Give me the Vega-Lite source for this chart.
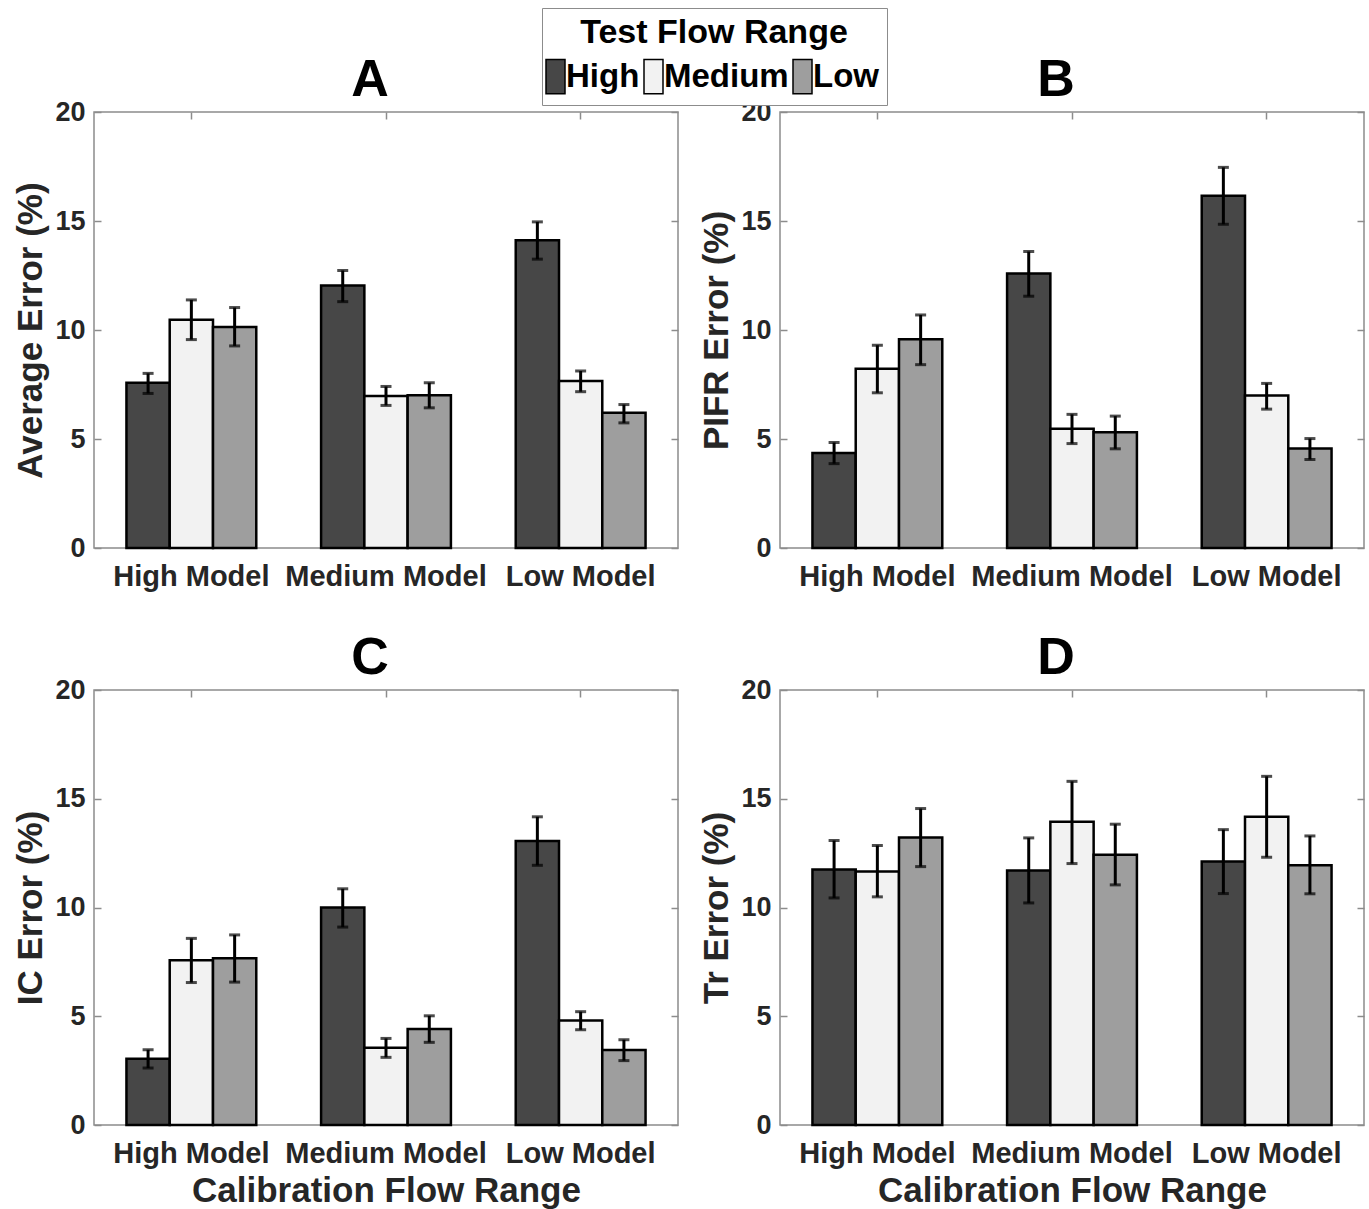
{
  "$schema": "https://vega.github.io/schema/vega-lite/v6.json",
  "padding": {"left": 13, "top": 7, "right": 3, "bottom": 3},
  "background": "white",
  "datasets": {
    "d": [
      {"panel": "A", "model": "High Model", "test": "High", "value": 7.58, "lo": 7.09, "hi": 8.01},
      {"panel": "A", "model": "High Model", "test": "Medium", "value": 10.47, "lo": 9.56, "hi": 11.38},
      {"panel": "A", "model": "High Model", "test": "Low", "value": 10.14, "lo": 9.27, "hi": 11.03},
      {"panel": "A", "model": "Medium Model", "test": "High", "value": 12.04, "lo": 11.3, "hi": 12.73},
      {"panel": "A", "model": "Medium Model", "test": "Medium", "value": 6.97, "lo": 6.54, "hi": 7.41},
      {"panel": "A", "model": "Medium Model", "test": "Low", "value": 7.01, "lo": 6.43, "hi": 7.58},
      {"panel": "A", "model": "Low Model", "test": "High", "value": 14.12, "lo": 13.25, "hi": 14.96},
      {"panel": "A", "model": "Low Model", "test": "Medium", "value": 7.66, "lo": 7.17, "hi": 8.12},
      {"panel": "A", "model": "Low Model", "test": "Low", "value": 6.2, "lo": 5.74, "hi": 6.58},
      {"panel": "B", "model": "High Model", "test": "High", "value": 4.36, "lo": 3.87, "hi": 4.84},
      {"panel": "B", "model": "High Model", "test": "Medium", "value": 8.22, "lo": 7.12, "hi": 9.3},
      {"panel": "B", "model": "High Model", "test": "Low", "value": 9.57, "lo": 8.41, "hi": 10.69},
      {"panel": "B", "model": "Medium Model", "test": "High", "value": 12.59, "lo": 11.55, "hi": 13.6},
      {"panel": "B", "model": "Medium Model", "test": "Medium", "value": 5.47, "lo": 4.79, "hi": 6.13},
      {"panel": "B", "model": "Medium Model", "test": "Low", "value": 5.31, "lo": 4.55, "hi": 6.05},
      {"panel": "B", "model": "Low Model", "test": "High", "value": 16.16, "lo": 14.85, "hi": 17.46},
      {"panel": "B", "model": "Low Model", "test": "Medium", "value": 7.0, "lo": 6.37, "hi": 7.55},
      {"panel": "B", "model": "Low Model", "test": "Low", "value": 4.56, "lo": 4.06, "hi": 5.02},
      {"panel": "C", "model": "High Model", "test": "High", "value": 3.05, "lo": 2.62, "hi": 3.46},
      {"panel": "C", "model": "High Model", "test": "Medium", "value": 7.58, "lo": 6.55, "hi": 8.58},
      {"panel": "C", "model": "High Model", "test": "Low", "value": 7.67, "lo": 6.57, "hi": 8.74},
      {"panel": "C", "model": "Medium Model", "test": "High", "value": 10.0, "lo": 9.1, "hi": 10.86},
      {"panel": "C", "model": "Medium Model", "test": "Medium", "value": 3.55, "lo": 3.11, "hi": 3.98},
      {"panel": "C", "model": "Medium Model", "test": "Low", "value": 4.41, "lo": 3.8, "hi": 5.02},
      {"panel": "C", "model": "Low Model", "test": "High", "value": 13.06, "lo": 11.94, "hi": 14.17},
      {"panel": "C", "model": "Low Model", "test": "Medium", "value": 4.81, "lo": 4.38, "hi": 5.21},
      {"panel": "C", "model": "Low Model", "test": "Low", "value": 3.45, "lo": 2.96, "hi": 3.92},
      {"panel": "D", "model": "High Model", "test": "High", "value": 11.75, "lo": 10.44, "hi": 13.08},
      {"panel": "D", "model": "High Model", "test": "Medium", "value": 11.65, "lo": 10.49, "hi": 12.85},
      {"panel": "D", "model": "High Model", "test": "Low", "value": 13.22, "lo": 11.88, "hi": 14.55},
      {"panel": "D", "model": "Medium Model", "test": "High", "value": 11.7, "lo": 10.21, "hi": 13.2},
      {"panel": "D", "model": "Medium Model", "test": "Medium", "value": 13.94, "lo": 12.02, "hi": 15.8},
      {"panel": "D", "model": "Medium Model", "test": "Low", "value": 12.43, "lo": 11.04, "hi": 13.83},
      {"panel": "D", "model": "Low Model", "test": "High", "value": 12.11, "lo": 10.64, "hi": 13.58},
      {"panel": "D", "model": "Low Model", "test": "Medium", "value": 14.17, "lo": 12.31, "hi": 16.03},
      {"panel": "D", "model": "Low Model", "test": "Low", "value": 11.94, "lo": 10.63, "hi": 13.29}
    ]
  },
  "vconcat": [
    {
      "hconcat": [
        {
          "width": 584, "height": 436,
          "title": "A",
          "data": {"name": "d"},
          "transform": [{"filter": "datum.panel === 'A'"}],
          "layer": [
            {
              "mark": {"type": "bar", "stroke": "black", "strokeWidth": 2.5},
              "encoding": {
                "x": {"field": "model", "type": "nominal", "sort": ["High Model", "Medium Model", "Low Model"], "scale": {"paddingInner": 0.333, "paddingOuter": 0.1667}, "axis": {"title": null, "labelAngle": 0}},
                "xOffset": {"field": "test", "type": "nominal", "sort": ["High", "Medium", "Low"]},
                "y": {"field": "value", "type": "quantitative", "scale": {"domain": [0, 20], "nice": false}, "axis": {"title": "Average Error (%)", "values": [0, 5, 10, 15, 20]}},
                "color": {"field": "test", "type": "nominal", "sort": ["High", "Medium", "Low"], "scale": {"domain": ["High", "Medium", "Low"], "range": ["#474747", "#f2f2f2", "#9e9e9e"]}, "legend": {"title": "Test Flow Range"}}
              }
            },
            {
              "mark": {"type": "rule", "color": "black", "strokeWidth": 3},
              "encoding": {
                "x": {"field": "model", "type": "nominal", "sort": ["High Model", "Medium Model", "Low Model"], "axis": {"orient": "top", "labels": false, "title": null}},
                "xOffset": {"field": "test", "type": "nominal", "sort": ["High", "Medium", "Low"]},
                "y": {"field": "lo", "type": "quantitative", "axis": {"orient": "right", "labels": false, "title": null, "values": [0, 5, 10, 15, 20]}},
                "y2": {"field": "hi"}
              }
            },
            {
              "mark": {"type": "tick", "color": "black", "thickness": 3, "size": 11},
              "encoding": {
                "x": {"field": "model", "type": "nominal", "sort": ["High Model", "Medium Model", "Low Model"], "axis": null},
                "xOffset": {"field": "test", "type": "nominal", "sort": ["High", "Medium", "Low"]},
                "y": {"field": "lo", "type": "quantitative", "axis": null}
              }
            },
            {
              "mark": {"type": "tick", "color": "black", "thickness": 3, "size": 11},
              "encoding": {
                "x": {"field": "model", "type": "nominal", "sort": ["High Model", "Medium Model", "Low Model"], "axis": null},
                "xOffset": {"field": "test", "type": "nominal", "sort": ["High", "Medium", "Low"]},
                "y": {"field": "hi", "type": "quantitative", "axis": null}
              }
            }
          ],
          "resolve": {"axis": {"x": "independent", "y": "independent"}}
        },
        {
          "width": 584, "height": 436,
          "title": "B",
          "data": {"name": "d"},
          "transform": [{"filter": "datum.panel === 'B'"}],
          "layer": [
            {
              "mark": {"type": "bar", "stroke": "black", "strokeWidth": 2.5},
              "encoding": {
                "x": {"field": "model", "type": "nominal", "sort": ["High Model", "Medium Model", "Low Model"], "scale": {"paddingInner": 0.333, "paddingOuter": 0.1667}, "axis": {"title": null, "labelAngle": 0}},
                "xOffset": {"field": "test", "type": "nominal", "sort": ["High", "Medium", "Low"]},
                "y": {"field": "value", "type": "quantitative", "scale": {"domain": [0, 20], "nice": false}, "axis": {"title": "PIFR Error (%)", "values": [0, 5, 10, 15, 20]}},
                "color": {"field": "test", "type": "nominal", "sort": ["High", "Medium", "Low"], "scale": {"domain": ["High", "Medium", "Low"], "range": ["#474747", "#f2f2f2", "#9e9e9e"]}, "legend": {"title": "Test Flow Range"}}
              }
            },
            {
              "mark": {"type": "rule", "color": "black", "strokeWidth": 3},
              "encoding": {
                "x": {"field": "model", "type": "nominal", "sort": ["High Model", "Medium Model", "Low Model"], "axis": {"orient": "top", "labels": false, "title": null}},
                "xOffset": {"field": "test", "type": "nominal", "sort": ["High", "Medium", "Low"]},
                "y": {"field": "lo", "type": "quantitative", "axis": {"orient": "right", "labels": false, "title": null, "values": [0, 5, 10, 15, 20]}},
                "y2": {"field": "hi"}
              }
            },
            {
              "mark": {"type": "tick", "color": "black", "thickness": 3, "size": 11},
              "encoding": {
                "x": {"field": "model", "type": "nominal", "sort": ["High Model", "Medium Model", "Low Model"], "axis": null},
                "xOffset": {"field": "test", "type": "nominal", "sort": ["High", "Medium", "Low"]},
                "y": {"field": "lo", "type": "quantitative", "axis": null}
              }
            },
            {
              "mark": {"type": "tick", "color": "black", "thickness": 3, "size": 11},
              "encoding": {
                "x": {"field": "model", "type": "nominal", "sort": ["High Model", "Medium Model", "Low Model"], "axis": null},
                "xOffset": {"field": "test", "type": "nominal", "sort": ["High", "Medium", "Low"]},
                "y": {"field": "hi", "type": "quantitative", "axis": null}
              }
            }
          ],
          "resolve": {"axis": {"x": "independent", "y": "independent"}}
        }
      ],
      "spacing": 19
    },
    {
      "hconcat": [
        {
          "width": 584, "height": 435,
          "title": "C",
          "data": {"name": "d"},
          "transform": [{"filter": "datum.panel === 'C'"}],
          "layer": [
            {
              "mark": {"type": "bar", "stroke": "black", "strokeWidth": 2.5},
              "encoding": {
                "x": {"field": "model", "type": "nominal", "sort": ["High Model", "Medium Model", "Low Model"], "scale": {"paddingInner": 0.333, "paddingOuter": 0.1667}, "axis": {"title": "Calibration Flow Range", "labelAngle": 0}},
                "xOffset": {"field": "test", "type": "nominal", "sort": ["High", "Medium", "Low"]},
                "y": {"field": "value", "type": "quantitative", "scale": {"domain": [0, 20], "nice": false}, "axis": {"title": "IC Error (%)", "values": [0, 5, 10, 15, 20]}},
                "color": {"field": "test", "type": "nominal", "sort": ["High", "Medium", "Low"], "scale": {"domain": ["High", "Medium", "Low"], "range": ["#474747", "#f2f2f2", "#9e9e9e"]}, "legend": {"title": "Test Flow Range"}}
              }
            },
            {
              "mark": {"type": "rule", "color": "black", "strokeWidth": 3},
              "encoding": {
                "x": {"field": "model", "type": "nominal", "sort": ["High Model", "Medium Model", "Low Model"], "axis": {"orient": "top", "labels": false, "title": null}},
                "xOffset": {"field": "test", "type": "nominal", "sort": ["High", "Medium", "Low"]},
                "y": {"field": "lo", "type": "quantitative", "axis": {"orient": "right", "labels": false, "title": null, "values": [0, 5, 10, 15, 20]}},
                "y2": {"field": "hi"}
              }
            },
            {
              "mark": {"type": "tick", "color": "black", "thickness": 3, "size": 11},
              "encoding": {
                "x": {"field": "model", "type": "nominal", "sort": ["High Model", "Medium Model", "Low Model"], "axis": null},
                "xOffset": {"field": "test", "type": "nominal", "sort": ["High", "Medium", "Low"]},
                "y": {"field": "lo", "type": "quantitative", "axis": null}
              }
            },
            {
              "mark": {"type": "tick", "color": "black", "thickness": 3, "size": 11},
              "encoding": {
                "x": {"field": "model", "type": "nominal", "sort": ["High Model", "Medium Model", "Low Model"], "axis": null},
                "xOffset": {"field": "test", "type": "nominal", "sort": ["High", "Medium", "Low"]},
                "y": {"field": "hi", "type": "quantitative", "axis": null}
              }
            }
          ],
          "resolve": {"axis": {"x": "independent", "y": "independent"}}
        },
        {
          "width": 584, "height": 435,
          "title": "D",
          "data": {"name": "d"},
          "transform": [{"filter": "datum.panel === 'D'"}],
          "layer": [
            {
              "mark": {"type": "bar", "stroke": "black", "strokeWidth": 2.5},
              "encoding": {
                "x": {"field": "model", "type": "nominal", "sort": ["High Model", "Medium Model", "Low Model"], "scale": {"paddingInner": 0.333, "paddingOuter": 0.1667}, "axis": {"title": "Calibration Flow Range", "labelAngle": 0}},
                "xOffset": {"field": "test", "type": "nominal", "sort": ["High", "Medium", "Low"]},
                "y": {"field": "value", "type": "quantitative", "scale": {"domain": [0, 20], "nice": false}, "axis": {"title": "Tr Error (%)", "values": [0, 5, 10, 15, 20]}},
                "color": {"field": "test", "type": "nominal", "sort": ["High", "Medium", "Low"], "scale": {"domain": ["High", "Medium", "Low"], "range": ["#474747", "#f2f2f2", "#9e9e9e"]}, "legend": {"title": "Test Flow Range"}}
              }
            },
            {
              "mark": {"type": "rule", "color": "black", "strokeWidth": 3},
              "encoding": {
                "x": {"field": "model", "type": "nominal", "sort": ["High Model", "Medium Model", "Low Model"], "axis": {"orient": "top", "labels": false, "title": null}},
                "xOffset": {"field": "test", "type": "nominal", "sort": ["High", "Medium", "Low"]},
                "y": {"field": "lo", "type": "quantitative", "axis": {"orient": "right", "labels": false, "title": null, "values": [0, 5, 10, 15, 20]}},
                "y2": {"field": "hi"}
              }
            },
            {
              "mark": {"type": "tick", "color": "black", "thickness": 3, "size": 11},
              "encoding": {
                "x": {"field": "model", "type": "nominal", "sort": ["High Model", "Medium Model", "Low Model"], "axis": null},
                "xOffset": {"field": "test", "type": "nominal", "sort": ["High", "Medium", "Low"]},
                "y": {"field": "lo", "type": "quantitative", "axis": null}
              }
            },
            {
              "mark": {"type": "tick", "color": "black", "thickness": 3, "size": 11},
              "encoding": {
                "x": {"field": "model", "type": "nominal", "sort": ["High Model", "Medium Model", "Low Model"], "axis": null},
                "xOffset": {"field": "test", "type": "nominal", "sort": ["High", "Medium", "Low"]},
                "y": {"field": "hi", "type": "quantitative", "axis": null}
              }
            }
          ],
          "resolve": {"axis": {"x": "independent", "y": "independent"}}
        }
      ],
      "spacing": 19
    }
  ],
  "spacing": 39,
  "config": {
    "font": "Liberation Sans",
    "view": {"stroke": "#8c8c8c", "strokeWidth": 1.5},
    "axis": {
      "labelFont": "Liberation Sans", "labelFontWeight": "bold", "labelFontSize": 27, "labelColor": "#262626", "labelLimit": 0,
      "titleFont": "Liberation Sans", "titleFontWeight": "bold", "titleFontSize": 35, "titleColor": "#262626", "titleLimit": 0,
      "domain": false, "grid": false, "tickColor": "#8c8c8c", "tickWidth": 1.5, "tickSize": -7
    },
    "axisLeft": {"labelPadding": 16, "titlePadding": 6},
    "axisBottom": {"labelPadding": 21, "titlePadding": 5, "labelFontSize": 29},
    "axisTop": {"minExtent": 0, "maxExtent": 0},
    "axisRight": {"minExtent": 0, "maxExtent": 0},
    "title": {"font": "Liberation Sans", "fontSize": 52, "fontWeight": "bold", "color": "#000000", "offset": -9, "dx": -16},
    "legend": {
      "orient": "none", "legendX": 448, "legendY": -104, "direction": "horizontal",
      "titleFont": "Liberation Sans", "titleFontSize": 34, "titleFontWeight": "bold", "titleColor": "#000000", "titleAnchor": "middle", "titlePadding": 10, "titleLimit": 0,
      "labelFont": "Liberation Sans", "labelFontSize": 33, "labelFontWeight": "bold", "labelColor": "#000000", "labelOffset": -6, "labelLimit": 0,
      "symbolType": "M-1,-1.8H1V1.8H-1Z", "symbolSize": 361, "symbolOffset": -11, "symbolStrokeColor": "black", "symbolStrokeWidth": 1.5, "symbolOpacity": 1,
      "columnPadding": 1, "strokeColor": "#8c8c8c", "fillColor": "white", "padding": 8
    }
  }
}
